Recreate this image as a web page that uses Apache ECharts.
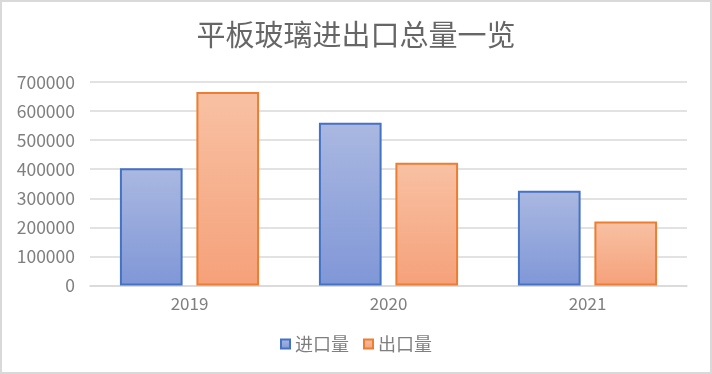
<!DOCTYPE html>
<html><head><meta charset="utf-8">
<script src="https://cdn.jsdelivr.net/npm/echarts@6/dist/echarts.min.js"></script>
<style>html,body{margin:0;padding:0;background:#fff}#c{width:712px;height:374px}</style>
</head><body><div id="c"></div>
<script>
const titleText = '平板玻璃进出口总量一览';
const categories = ['2019', '2020', '2021'];
const importName = '进口量';
const exportName = '出口量';
const importValues = [403000, 560000, 326000];
const exportValues = [666000, 422000, 220000];
const yTicks = [0, 100000, 200000, 300000, 400000, 500000, 600000, 700000];

const font = '"Noto Sans CJK SC", "Microsoft YaHei", sans-serif';
const chart = echarts.init(document.getElementById('c'));
const grad = (a, b) => new echarts.graphic.LinearGradient(0, 0, 0, 1, [{offset: 0, color: a}, {offset: 1, color: b}]);
chart.setOption({
  animation: false,
  backgroundColor: '#fff',
  graphic: [{type: 'rect', shape: {x: 1, y: 1, width: 710, height: 372}, style: {fill: 'none', stroke: '#d9d9d9', lineWidth: 2}, silent: true}],
  title: {text: titleText, left: 'center', top: 15, textStyle: {fontFamily: font, fontSize: 29, fontWeight: 'normal', color: '#666666'}},
  legend: {data: [importName, exportName], bottom: 16, left: 'center', itemWidth: 9, itemHeight: 9, itemGap: 14,
    icon: 'rect', textStyle: {fontFamily: font, fontSize: 18, color: '#7f7f7f'}},
  grid: {left: 90, right: 25, top: 82, bottom: 88.5},
  xAxis: {type: 'category', data: categories,
    axisLine: {lineStyle: {color: '#d9d9d9', width: 1.5}}, axisTick: {show: false},
    axisLabel: {fontFamily: font, fontSize: 17, color: '#7f7f7f', margin: 10}},
  yAxis: {type: 'value', min: yTicks[0], max: yTicks[yTicks.length - 1], interval: yTicks[1] - yTicks[0],
    axisLine: {show: false}, axisTick: {show: false},
    splitLine: {lineStyle: {color: '#d9d9d9', width: 1.5}},
    axisLabel: {fontFamily: font, fontSize: 17.5, color: '#7f7f7f', margin: 15, formatter: v => String(v)}},
  series: [
    {name: importName, type: 'bar', data: importValues, barWidth: '31.5%', barGap: '22%',
      itemStyle: {color: grad('#aab8e1', '#8097d7'), borderColor: '#4472c4', borderWidth: 2}},
    {name: exportName, type: 'bar', data: exportValues, barWidth: '31.5%',
      itemStyle: {color: grad('#f8c1a3', '#f5a17a'), borderColor: '#ed7d31', borderWidth: 2}}
  ]
});
</script></body></html>
